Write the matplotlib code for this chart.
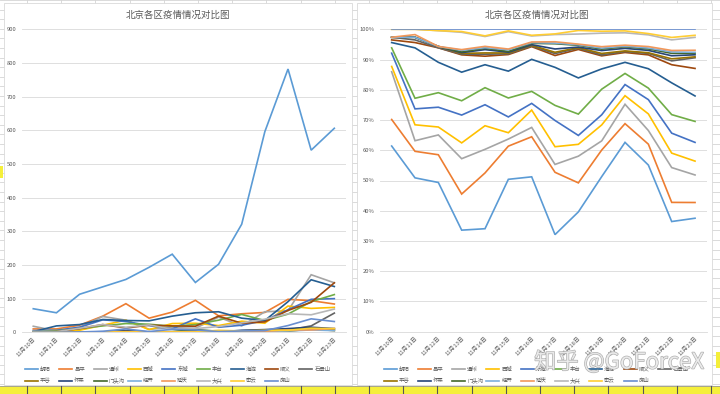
import matplotlib
matplotlib.use('Agg')
import matplotlib.pyplot as plt
import matplotlib.patheffects as pe
from matplotlib.patches import Rectangle
import numpy as np

plt.rcParams['font.family'] = ['Noto Sans CJK SC', 'DejaVu Sans']

# ---- data ----
dates = ['11月10日', '11月11日', '11月12日', '11月13日', '11月14日', '11月15日', '11月16日',
         '11月17日', '11月18日', '11月19日', '11月20日', '11月21日', '11月22日', '11月23日']
districts = ['朝阳', '昌平', '通州', '西城', '东城', '丰台', '海淀', '顺义', '石景山',
             '平谷', '怀柔', '门头沟', '经开', '延庆', '大兴', '密云', '房山']

chaoyang = [70, 58, 113, 135, 157, 193, 232, 148, 202, 321, 596, 782, 541, 606]
changping = [10, 10, 21, 48, 85, 42, 60, 95, 49, 55, 59, 98, 94, 84]
tongzhou = [18, 4, 15, 47, 36, 9, 14, 12, 45, 19, 61, 64, 171, 147]
xicheng = [2, 6, 6, 21, 36, 8, 26, 27, 20, 33, 27, 78, 71, 74]
dongcheng = [5, 6, 15, 37, 32, 20, 10, 40, 15, 21, 35, 67, 98, 100]
fengtai = [2, 4, 11, 19, 26, 24, 18, 23, 36, 53, 35, 54, 91, 112]
haidian = [2, 19, 23, 38, 35, 34, 48, 58, 61, 42, 35, 91, 156, 136]
shunyi = [1, 2, 11, 23, 13, 21, 19, 18, 48, 27, 31, 65, 89, 147]
shijingshan = [1, 1, 0, 1, 3, 1, 1, 3, 2, 2, 3, 7, 19, 57]
pinggu = [0, 1, 1, 1, 2, 1, 1, 2, 1, 3, 2, 3, 10, 5]
huairou = [0, 0, 0, 1, 5, 1, 1, 5, 1, 6, 8, 11, 15, 11]
mentougou = [0, 0, 0, 1, 2, 1, 2, 8, 3, 3, 5, 7, 12, 8]
jingkai = [0, 0, 0, 2, 1, 2, 1, 1, 1, 2, 2, 4, 7, 5]
yanqing = [0, 1, 0, 1, 2, 1, 1, 2, 1, 3, 3, 7, 7, 11]
daxing = [3, 2, 12, 23, 15, 22, 9, 11, 17, 28, 39, 55, 52, 69]
miyun = [0, 0, 0, 1, 1, 1, 1, 1, 6, 4, 6, 6, 12, 11]
fangshan = [0, 0, 1, 3, 10, 2, 9, 7, 2, 4, 5, 20, 40, 32]

series = [chaoyang, changping, tongzhou, xicheng, dongcheng, fengtai, haidian, shunyi,
          shijingshan, pinggu, huairou, mentougou, jingkai, yanqing, daxing, miyun, fangshan]

colors = ['#5B9BD5', '#ED7D31', '#A5A5A5', '#FFC000', '#4472C4', '#70AD47',
          '#255E91', '#9E480E', '#636363', '#997300', '#264478', '#43682B',
          '#7CAFDD', '#F1975A', '#B7B7B7', '#FFCD33', '#698ED0']

counts = np.array(series, dtype=float)
cum_pct = np.cumsum(counts, axis=0) / counts.sum(axis=0) * 100

W, H = 720, 394
fig = plt.figure(figsize=(W / 100, H / 100), dpi=100)
fig.patch.set_facecolor('white')

# ---- excel sheet background ----
bg = fig.add_axes([0, 0, 1, 1], zorder=0)
bg.set_xlim(0, W)
bg.set_ylim(H, 0)
bg.axis('off')
for k in range(25):
    bg.plot([27 + 34.2 * k] * 2, [0, H], color='#D4D4D4', lw=0.6, zorder=1)
for k in range(45):
    bg.plot([0, W], [9.6 * k] * 2, color='#D4D4D4', lw=0.6, zorder=1)
# chart areas
bg.add_patch(Rectangle((4, 3), 348, 382, facecolor='white', edgecolor='#D9D9D9', lw=0.6, zorder=3))
bg.add_patch(Rectangle((357, 3), 355, 382, facecolor='white', edgecolor='#D9D9D9', lw=0.6, zorder=3))
# highlighted cells
bg.add_patch(Rectangle((0, 386), W, 8, facecolor='#F5EF3A', edgecolor='none', zorder=4))
bg.plot([0, W], [386, 386], color='#9A9A9A', lw=0.6, zorder=5)
for k in range(25):
    bg.plot([27 + 34.2 * k] * 2, [386, H], color='#555555', lw=0.8, zorder=5)
bg.add_patch(Rectangle((0, 166), 3, 12, facecolor='#F5EF3A', edgecolor='none', zorder=4))
bg.add_patch(Rectangle((716, 352), 4, 16, facecolor='#F5EF3A', edgecolor='none', zorder=4))


def px_axes(x0, y0, x1, y1):
    return fig.add_axes([x0 / W, (H - y1) / H, (x1 - x0) / W, (y1 - y0) / H], zorder=2)


def style_axes(ax):
    ax.set_facecolor('none')
    for s in ['top', 'right', 'left']:
        ax.spines[s].set_visible(False)
    ax.spines['bottom'].set_color('#D9D9D9')
    ax.spines['bottom'].set_linewidth(0.6)
    ax.grid(axis='y', color='#D9D9D9', lw=0.6)
    ax.set_axisbelow(True)
    ax.set_xlim(-0.5, len(dates) - 0.5)
    ax.set_xticks(range(len(dates)))
    ax.set_xticklabels(dates, rotation=45, ha='right', va='top', rotation_mode='anchor')
    ax.tick_params(length=0, labelsize=4.2, labelcolor='#595959')
    ax.tick_params(axis='x', pad=3)
    ax.tick_params(axis='y', pad=4)


x = np.arange(len(dates))

# ---- left: counts ----
ax1 = px_axes(21.7, 29.3, 345.9, 332.3)
style_axes(ax1)
for vals, c in zip(series, colors):
    ax1.plot(x, vals, color=c, lw=1.2, solid_joinstyle='miter')
ax1.set_ylim(0, 900)
ax1.set_yticks(range(0, 901, 100))

# ---- right: 100% stacked line ----
ax2 = px_axes(380, 29.3, 706.7, 331.7)
style_axes(ax2)
for k, c in enumerate(colors):
    ax2.plot(x, cum_pct[k], color=c, lw=1.2, solid_joinstyle='miter')
ax2.set_ylim(0, 100)
ax2.set_yticks(range(0, 101, 10))
ax2.set_yticklabels([f'{v}%' for v in range(0, 101, 10)])

# ---- titles, legends, watermark ----
fg = fig.add_axes([0, 0, 1, 1], zorder=5)
fg.set_xlim(0, W)
fg.set_ylim(H, 0)
fg.axis('off')
fg.patch.set_alpha(0)
fg.text(178, 15, '北京各区疫情情况对比图', ha='center', va='center', fontsize=6.8, color='#595959')
fg.text(537, 15, '北京各区疫情情况对比图', ha='center', va='center', fontsize=6.8, color='#595959')

for x0 in (25, 383.5):
    for k, (name, c) in enumerate(zip(districts, colors)):
        row, col = divmod(k, 9)
        lx = x0 + col * 34.3
        ly = 369.3 + row * 11.4
        fg.plot([lx, lx + 13], [ly, ly], color=c, lw=1.2)
        fg.text(lx + 15, ly, name, ha='left', va='center', fontsize=3.9, color='#595959')

fg.text(619, 362, '知乎 @GoForceX', ha='center', va='center', fontsize=16,
        color='#EFEFEF', alpha=0.85,
        path_effects=[pe.withStroke(linewidth=0.9, foreground='#A0A0A0')])

fig.savefig('out.png', dpi=100, facecolor='white')
